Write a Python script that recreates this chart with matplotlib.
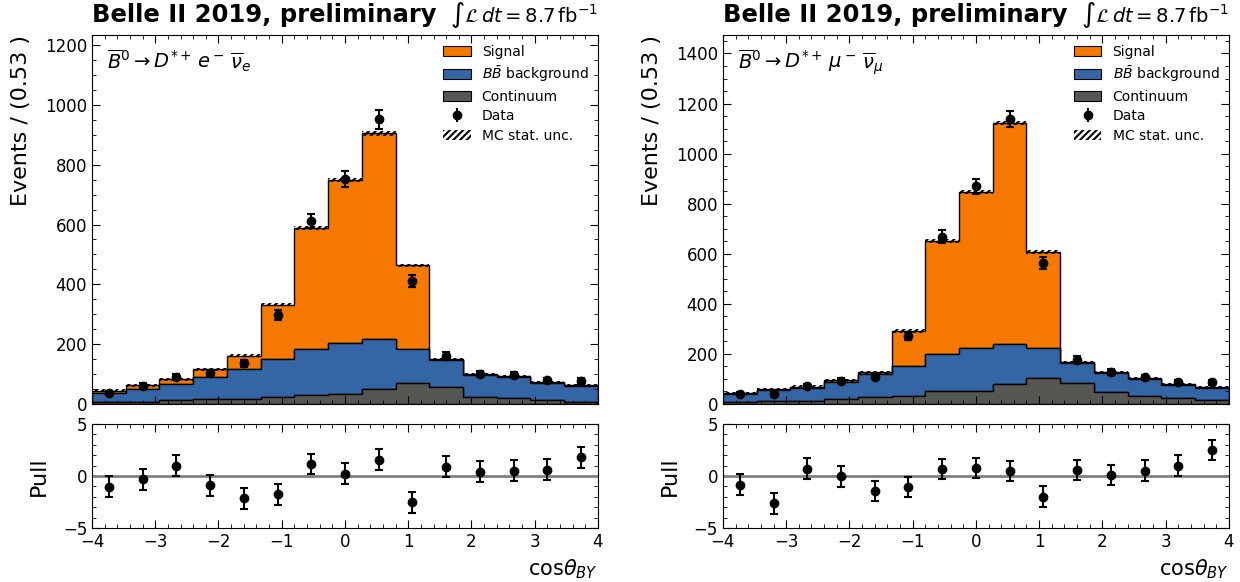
import matplotlib.pyplot as plt
from matplotlib.patches import Patch
import numpy as np

edges = np.linspace(-4, 4, 16)
centers = 0.5 * (edges[1:] + edges[:-1])

# electron channel
e_cont = [7, 7, 12, 14, 16, 23, 28, 34, 49, 69, 56, 22, 19, 12, 7]
e_bbbar = [28, 43, 53, 74, 100, 127, 154, 169, 168, 114, 89, 74, 71, 57, 52]
e_signal = [9, 11, 16, 28, 45, 182, 406, 545, 688, 280, 3, 2, 2, 2, 2]
e_mcunc = [4, 4, 4, 5, 5, 6, 7, 7, 8, 6, 5, 4, 4, 4, 4]
e_data = [37, 60, 90, 103, 136, 298, 612, 752, 952, 410, 161, 101, 96, 78, 76]
e_pull = [-1.03, -0.32, 1.0, -0.9, -2.15, -1.76, 1.15, 0.22, 1.57, -2.53, 0.9, 0.42, 0.51, 0.61, 1.8]

# muon channel
m_cont = [6, 10, 11, 17, 27, 31, 49, 51, 77, 103, 81, 45, 30, 21, 14]
m_bbbar = [34, 45, 52, 71, 92, 118, 149, 171, 160, 119, 83, 79, 69, 55, 49]
m_signal = [3, 4, 5, 5, 6, 142, 452, 623, 885, 385, 2, 3, 4, 3, 4]
m_mcunc = [5, 5, 5, 5, 6, 7, 8, 8, 9, 7, 5, 5, 5, 5, 5]
m_data = [39, 40, 71, 92, 108, 269, 667, 869, 1138, 562, 176, 127, 105, 87, 85]
m_pull = [-0.83, -2.63, 0.7, -0.03, -1.44, -1.06, 0.67, 0.77, 0.48, -1.99, 0.58, 0.1, 0.51, 0.99, 2.5]

pull_err = [1.0] * 15

c_sig = '#f57900'
c_bb = '#3465a4'
c_cont = '#555753'

plt.rcParams['font.family'] = 'DejaVu Sans'
plt.rcParams['mathtext.fontset'] = 'dejavusans'
plt.rcParams['hatch.linewidth'] = 1.5

fig = plt.figure(figsize=(12.4, 5.82), dpi=100)


def style(ax):
    ax.tick_params(which='both', direction='in', top=True, right=True, labelsize=12)
    ax.tick_params(which='major', length=6)
    ax.tick_params(which='minor', length=3)
    ax.minorticks_on()


def panel(x0, cont, bbbar, signal, mcunc, data, pull, ymax, decay):
    ax = fig.add_axes([x0, 0.3064, 0.408, 0.6335])
    axp = fig.add_axes([x0, 0.0928, 0.408, 0.1787])
    bw = edges[1] - edges[0]

    ax.hist([centers] * 3, bins=edges, weights=[cont, bbbar, signal], stacked=True,
            histtype='stepfilled', color=[c_cont, c_bb, c_sig],
            edgecolor='black', linewidth=1)
    total = np.array(cont) + np.array(bbbar) + np.array(signal)
    unc = np.array(mcunc)
    ax.bar(centers, 2 * unc, width=bw, bottom=total - unc, fill=False,
           hatch='/////', edgecolor='black', linewidth=0)
    ax.errorbar(centers, data, yerr=np.sqrt(data), fmt='o', color='black',
                ms=6, elinewidth=1.5, capsize=3, capthick=1.5)

    ax.set_xlim(-4, 4)
    ax.set_ylim(0, ymax)
    style(ax)
    ax.set_xticklabels([])
    ax.set_ylabel('Events / (0.53 )', fontsize=16, loc='top', labelpad=10)
    ax.set_title('Belle II 2019, preliminary', loc='left', fontsize=17.5,
                 fontweight='bold', pad=9)
    ax.set_title(r'$\int\mathcal{L}\,dt = 8.7\,\mathrm{fb}^{-1}$', loc='right',
                 fontsize=14, pad=9)
    ax.text(0.03, 0.965, decay, transform=ax.transAxes, fontsize=14, va='top')

    handles = [
        Patch(facecolor=c_sig, edgecolor='black', linewidth=0.8, label='Signal'),
        Patch(facecolor=c_bb, edgecolor='black', linewidth=0.8, label=r'$B\bar{B}$ background'),
        Patch(facecolor=c_cont, edgecolor='black', linewidth=0.8, label='Continuum'),
        ax.errorbar([], [], yerr=[], fmt='o', color='black', ms=6, elinewidth=1.5,
                    capsize=3, capthick=1.5, label='Data'),
        Patch(fill=False, hatch='/////', edgecolor='black', linewidth=0, label='MC stat. unc.'),
    ]
    ax.legend(handles=handles, loc='upper right', frameon=False, fontsize=10,
              borderaxespad=0.3, labelspacing=0.4)

    axp.axhline(0, color='grey', linewidth=2)
    axp.errorbar(centers, pull, yerr=pull_err, fmt='o', color='black',
                 ms=6, elinewidth=1.5, capsize=3, capthick=1.5)
    axp.set_xlim(-4, 4)
    axp.set_ylim(-5, 5)
    axp.set_yticks([-5, 0, 5])
    style(axp)
    axp.set_ylabel('Pull', fontsize=16, labelpad=10)
    axp.set_xlabel(r'cos$\theta_{BY}$', fontsize=15, loc='right', labelpad=5)
    return ax, axp


panel(0.0742, e_cont, e_bbbar, e_signal, e_mcunc, e_data, e_pull, 1235,
      r'$\overline{B}^0 \rightarrow D^{*+}\,e^-\,\overline{\nu}_e$')
panel(0.583, m_cont, m_bbbar, m_signal, m_mcunc, m_data, m_pull, 1474,
      r'$\overline{B}^0 \rightarrow D^{*+}\,\mu^-\,\overline{\nu}_\mu$')

fig.savefig('out.png', dpi=100)
